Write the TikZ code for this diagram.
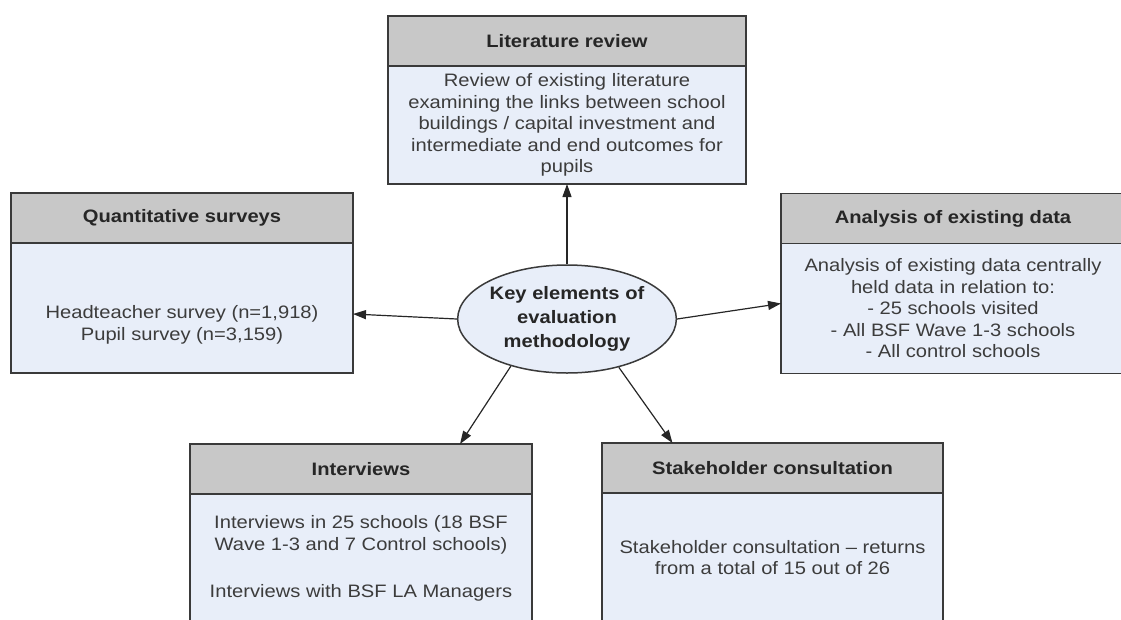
\documentclass[tikz,border=0pt]{standalone}
\usepackage{fontspec}
\setmainfont{Liberation Sans}[FakeStretch=1.12]
\usetikzlibrary{arrows.meta,positioning,shapes.geometric}
\definecolor{headgrey}{HTML}{C8C8C8}
\definecolor{bodyblue}{HTML}{E8EEF9}
\definecolor{boxline}{HTML}{3A3A3A}
\definecolor{bodytext}{HTML}{3C3C3C}

\tikzset{
  headbox/.style={draw=boxline, fill=headgrey, line width=1.5pt, outer sep=0pt, inner sep=0pt,
    minimum height=50pt, font=\fontsize{18pt}{21.5pt}\selectfont\bfseries, text=black!85},
  bodybox/.style={draw=boxline, fill=bodyblue, line width=1.5pt, outer sep=0pt, inner sep=0pt,
    align=center, font=\fontsize{18pt}{21.5pt}\selectfont, text=bodytext},
  keynode/.style={ellipse, draw=boxline, fill=bodyblue, line width=1.5pt, inner sep=0pt,
    minimum width=215pt, minimum height=108pt, align=center,
    font=\fontsize{18pt}{24pt}\selectfont\bfseries, text=black!85},
  link/.style={draw=black!85, line width=1.2pt, -{Triangle[length=13pt,width=9pt]}}
}

\begin{document}
\begin{tikzpicture}[x=1pt,y=-1pt]
  \useasboundingbox (0,0) rectangle (1121,619);

  % centre
  \node[keynode] (key) at (567,319) {Key elements of\\evaluation\\methodology};

  % literature review
  \node[headbox,minimum width=358pt] (lithead) at (567,41) {Literature review};
  \node[bodybox,minimum width=358pt,minimum height=118pt,below=0pt of lithead] (litbody)
    {Review of existing literature\\examining the links between school\\buildings / capital investment and\\intermediate and end outcomes for\\pupils};

  % quantitative surveys
  \node[headbox,minimum width=342pt] (quanthead) at (182,218) {Quantitative surveys};
  \node[bodybox,minimum width=342pt,minimum height=130pt,below=0pt of quanthead] (quantbody)
    {\mbox{}\\[25.5pt]Headteacher survey (n=1,918)\\Pupil survey (n=3,159)};

  % existing data
  \node[headbox,minimum width=344pt] (datahead) at (953,218.5) {Analysis of existing data};
  \node[bodybox,minimum width=344pt,minimum height=130pt,below=0pt of datahead] (databody)
    {Analysis of existing data centrally\\held data in relation to:\\- 25 schools visited\\- All BSF Wave 1-3 schools\\- All control schools};

  % interviews
  \node[headbox,minimum width=342pt] (inthead) at (361,469) {Interviews};
  \node[bodybox,minimum width=342pt,minimum height=129pt,below=0pt of inthead] (intbody)
    {Interviews in 25 schools (18 BSF\\Wave 1-3 and 7 Control schools)\\[26pt]Interviews with BSF LA Managers};

  % stakeholders
  \node[headbox,minimum width=341pt] (stakehead) at (772.5,468) {Stakeholder consultation};
  \node[bodybox,minimum width=341pt,minimum height=129pt,below=0pt of stakehead] (stakebody)
    {Stakeholder consultation -- returns\\from a total of 15 out of 26};

  % links
  \draw[link] (key.north) -- (litbody.south);
  \draw[link] (key.west) -- ([yshift=-6pt]quantbody.east);
  \draw[link] (key.east) -- ([yshift=5pt]databody.west);
  \draw[link] (key.220) -- ([xshift=99pt]inthead.north);
  \draw[link] (key.-43) -- ([xshift=-100pt]stakehead.north);
\end{tikzpicture}
\end{document}
